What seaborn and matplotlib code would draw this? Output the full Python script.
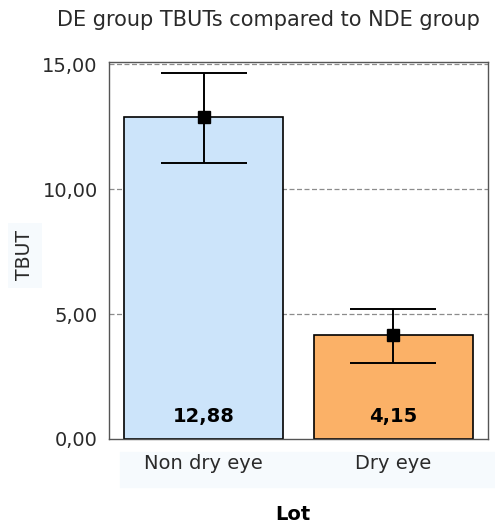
import matplotlib
matplotlib.use("Agg")
import matplotlib.pyplot as plt
import seaborn as sns
import pandas as pd
import numpy as np

# Data
categories = ["Non dry eye", "Dry eye"]
means = [12.88, 4.15]
ci_low = [11.04, 3.03]
ci_high = [14.65, 5.19]
value_labels = ["12,88", "4,15"]
bar_colors = ["#cce4fa", "#fbb167"]
y_ticks = [0, 5, 10, 15]
y_tick_labels = ["0,00", "5,00", "10,00", "15,00"]

sns.set_style("white")
plt.rcParams['font.family'] = ['DejaVu Sans']

df = pd.DataFrame({"Lot": categories, "TBUT": means})

fig = plt.figure(figsize=(4.95, 5.26), dpi=100)
# faint band behind x tick labels
band = plt.Rectangle((120/495, 1-487/526), 375/495, 35/526,
                     transform=fig.transFigure, color="#f6fafd", zorder=-1)
fig.patches.append(band)

ax = fig.add_axes([0.220, 0.1654, 0.766, 0.7166])
ax.set_zorder(1)
ax.patch.set_alpha(0)

for y in y_ticks[1:]:
    ax.axhline(y, color="#8c8c8c", linestyle=(0, (4, 2)), linewidth=0.9, zorder=0)

sns.barplot(data=df, x="Lot", y="TBUT", hue="Lot", palette=bar_colors, legend=False,
            width=0.84, edgecolor="black", linewidth=1.2, errorbar=None, saturation=1,
            ax=ax, zorder=2)

xs = np.arange(len(categories))
lower = np.array(means) - np.array(ci_low)
upper = np.array(ci_high) - np.array(means)
ax.errorbar(xs, means, yerr=[lower, upper], fmt="s", color="black", markersize=8,
            ecolor="black", elinewidth=1.4, capsize=31, capthick=1.4, zorder=3)

for x, lab in zip(xs, value_labels):
    ax.text(x, 0.9, lab, ha="center", va="center", fontsize=14, fontweight="bold",
            color="black", zorder=4)

ax.set_xlim(-0.5, 1.5)
ax.set_ylim(0, 15.08)
ax.set_yticks(y_ticks)
ax.set_yticklabels(y_tick_labels, fontsize=14, color="#2a2a2a")
ax.set_xticks(xs)
ax.set_xticklabels(categories, fontsize=14, color="#2a2a2a")
ax.tick_params(axis="both", direction="out", length=5, width=2, color="black", pad=3)
ax.tick_params(axis="x", length=4, pad=7)
for s in ax.spines.values():
    s.set_color("#555555")
    s.set_linewidth(1.0)
    s.set_visible(True)

ax.set_xlabel("")
ax.set_ylabel("")
fig.text(25/495, 1-255/526, "TBUT", rotation=90, ha="center", va="center", fontsize=13.5,
         color="#2a2a2a",
         bbox=dict(boxstyle="square,pad=0.4", facecolor="#f6fafd", edgecolor="none"))
fig.text(293/495, 1-515/526, "Lot", ha="center", va="center", fontsize=14,
         fontweight="bold", color="black")
fig.text(268/495, 1-20/526, "DE group TBUTs compared to NDE group", ha="center",
         va="center", fontsize=15, color="#2a2a2a")

fig.savefig("out.png", dpi=100)
